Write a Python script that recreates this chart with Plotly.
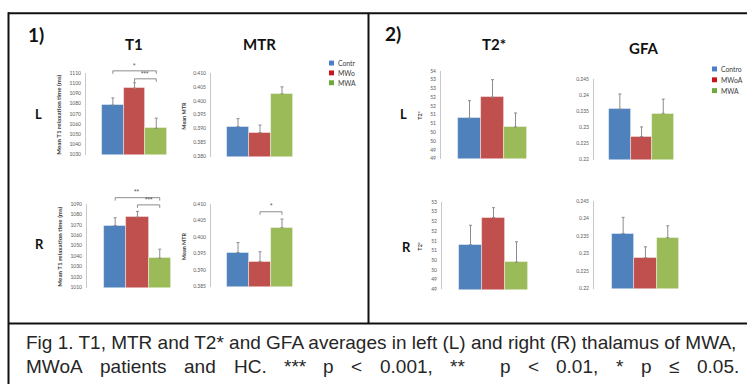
import plotly.graph_objects as go

W, H = 747, 387

# ---------------- data ----------------
groups = ["Control", "MWoA", "MWA"]
bar_colors = ["#4F81BD", "#C0504D", "#9BBB59"]
legend_colors = ["#4A7EC8", "#C8141E", "#6BAA3A"]
legend1_labels = ["Contr", "MWo", "MWA"]
legend2_labels = ["Contro", "MWoA", "MWA"]

t1_left = [1078.5, 1095.0, 1055.7]
t1_left_err = [7.0, 5.4, 10.0]
t1_right = [1069.3, 1077.2, 1038.0]
t1_right_err = [7.4, 5.6, 8.7]

mtr_left = [0.3908, 0.3886, 0.4025]
mtr_left_err = [0.0028, 0.0027, 0.0025]
mtr_right = [0.3953, 0.3926, 0.4028]
mtr_right_err = [0.0030, 0.0029, 0.0026]

t2_left = [51.3, 52.5, 50.8]
t2_left_err = [1.0, 1.0, 0.8]
t2_right = [51.3, 52.7, 50.4]
t2_right_err = [1.0, 0.5, 1.05]

gfa_left = [0.2356, 0.2271, 0.2343]
gfa_left_err = [0.0047, 0.0030, 0.0044]
gfa_right = [0.2357, 0.2288, 0.2345]
gfa_right_err = [0.0046, 0.0031, 0.0034]

t1_left_ticks = [1030, 1040, 1050, 1060, 1070, 1080, 1090, 1100, 1110]
t1_right_ticks = [1010, 1020, 1030, 1040, 1050, 1060, 1070, 1080, 1090]
mtr_left_ticks = [0.380, 0.385, 0.390, 0.395, 0.400, 0.405, 0.410]
mtr_right_ticks = [0.385, 0.390, 0.395, 0.400, 0.405, 0.410]
t2_left_ticks = [49, 49.5, 50, 50.5, 51, 51.5, 52, 52.5, 53, 53.5, 54]
t2_left_ticktext = ["49", "49", "50", "50", "51", "51", "52", "52", "53", "53", "54"]
t2_right_ticks = [49, 49.5, 50, 50.5, 51, 51.5, 52, 52.5, 53, 53.5]
t2_right_ticktext = ["49", "49", "50", "50", "51", "51", "52", "52", "53", "53"]
gfa_ticks = [0.22, 0.225, 0.23, 0.235, 0.24, 0.245]
gfa_ticktext = ["0.22", "0.225", "0.23", "0.235", "0.24", "0.245"]

caption1 = "Fig 1. T1, MTR and T2* and GFA averages in left (L) and right (R) thalamus of MWA,"
caption2_words = ["MWoA", "patients", "and", "HC.", "***", "p", "<", "0.001,", "**", "p", "<",
                  "0.01,", "*", "p", "\u2264", "0.05."]
caption2_gaps = [1, 1, 1, 1, 1, 1, 1, 1, 2, 1, 1, 1, 1, 1, 1]

# ---------------- helpers ----------------
def PX(px):
    return px / W

def PY(py):
    return 1 - py / H

TICKFONT = dict(family="Lato", size=5, color="#595959")
D = 100  # plot width in px

# panel layout: axis x px, top px, bottom px, first bar left px, bar width px
panels = [
    dict(vals=t1_left, err=t1_left_err, ticks=t1_left_ticks, text=[str(v) for v in t1_left_ticks],
         ax=86, top=71, bot=154, bl=102, bw=21.7, ytitle="Mean T1 relaxation time (ms)", tx=59, tsize=6.2),
    dict(vals=mtr_left, err=mtr_left_err, ticks=mtr_left_ticks, text=["%.3f" % v for v in mtr_left_ticks],
         ax=211, top=71, bot=156, bl=227, bw=22, ytitle="Mean MTR", tx=184, tsize=5.5),
    dict(vals=t2_left, err=t2_left_err, ticks=t2_left_ticks, text=t2_left_ticktext,
         ax=441, top=69, bot=158, bl=458, bw=23, ytitle="T2*", tx=420, tsize=5.5),
    dict(vals=gfa_left, err=gfa_left_err, ticks=gfa_ticks, text=gfa_ticktext,
         ax=594, top=77, bot=159, bl=609, bw=21.7, ytitle=None),
    dict(vals=t1_right, err=t1_right_err, ticks=t1_right_ticks, text=[str(v) for v in t1_right_ticks],
         ax=87, top=204, bot=289, bl=104, bw=22.3, ytitle="Mean T1 relaxation time (ms)", tx=60, tsize=6.2),
    dict(vals=mtr_right, err=mtr_right_err, ticks=mtr_right_ticks, text=["%.3f" % v for v in mtr_right_ticks],
         ax=211, top=204, bot=288, bl=227, bw=22, ytitle="Mean MTR", tx=184, tsize=5.5),
    dict(vals=t2_right, err=t2_right_err, ticks=t2_right_ticks, text=t2_right_ticktext,
         ax=442, top=202, bot=291, bl=459, bw=23, ytitle="T2*", tx=420, tsize=5.5),
    dict(vals=gfa_right, err=gfa_right_err, ticks=gfa_ticks, text=gfa_ticktext,
         ax=594, top=201, bot=290, bl=612, bw=22.3, ytitle=None),
]

fig = go.Figure()
layout = {}
shapes = []
annotations = []

for k, p in enumerate(panels, start=1):
    sfx = "" if k == 1 else str(k)
    c0 = p["bl"] + p["bw"] / 2
    r0 = -(c0 - p["ax"]) / p["bw"]
    r1 = r0 + D / p["bw"]
    fig.add_trace(go.Bar(
        x=[0, 1, 2], y=p["vals"], width=1,
        marker=dict(color=bar_colors, line=dict(color="rgba(255,255,255,0.55)", width=0.8)),
        error_y=dict(type="data", array=p["err"], arrayminus=[0, 0, 0], symmetric=False,
                     color="#8C8C8C", thickness=1, width=1.5),
        xaxis="x" + sfx, yaxis="y" + sfx, showlegend=False, hoverinfo="skip",
    ))
    layout["xaxis" + sfx] = dict(domain=[PX(p["ax"]), PX(p["ax"] + D)], range=[r0, r1],
                                 visible=False, anchor="y" + sfx, fixedrange=True)
    layout["yaxis" + sfx] = dict(domain=[PY(p["bot"]), PY(p["top"])],
                                 range=[p["ticks"][0], p["ticks"][-1]],
                                 anchor="x" + sfx, tickvals=p["ticks"], ticktext=p["text"],
                                 showline=True, linecolor="#C8C8C8", linewidth=1,
                                 showgrid=False, zeroline=False, ticks="",
                                 ticklabelstandoff=3, tickfont=TICKFONT, fixedrange=True)
    p["c0"] = c0
    if p["ytitle"]:
        annotations.append(dict(x=PX(p["tx"]), y=PY((p["top"] + p["bot"]) / 2 + 1), xref="paper", yref="paper",
                                text="<b>%s</b>" % p["ytitle"], textangle=-90, showarrow=False,
                                font=dict(family="Lato", size=p["tsize"], color="#404040"),
                                xanchor="center", yanchor="middle"))


def bracket(p, i, j, level, label):
    ymin, ymax = p["ticks"][0], p["ticks"][-1]
    py = p["bot"] - (level - ymin) / (ymax - ymin) * (p["bot"] - p["top"])
    x1 = p["c0"] + i * p["bw"]
    x2 = p["c0"] + j * p["bw"]
    path = "M %f,%f L %f,%f L %f,%f L %f,%f" % (PX(x1), PY(py + 3), PX(x1), PY(py), PX(x2), PY(py), PX(x2), PY(py + 3))
    shapes.append(dict(type="path", path=path, xref="paper", yref="paper",
                       line=dict(color="#808080", width=0.9)))
    annotations.append(dict(x=PX((x1 + x2) / 2), y=PY(py - 0.3), xref="paper", yref="paper",
                            text=label, showarrow=False, xanchor="center", yanchor="bottom",
                            font=dict(family="Liberation Sans", size=6.5, color="#555555")))


bracket(panels[0], 0, 2, 1112.0, "*")
bracket(panels[0], 1, 2, 1104.2, "***")
bracket(panels[4], 0, 2, 1095.9, "**")
bracket(panels[4], 1, 2, 1089.0, "***")
bracket(panels[5], 1, 2, 0.4076, "*")

# ---------------- text labels ----------------
def txt(x, y, s, size, family="Lato", bold=True, color="#111111", anchor="center"):
    annotations.append(dict(x=PX(x), y=PY(y), xref="paper", yref="paper",
                            text=("<b>%s</b>" % s) if bold else s, showarrow=False,
                            xanchor=anchor, yanchor="middle",
                            font=dict(family=family, size=size, color=color)))

txt(36, 32, "1)", 19)
txt(393, 31, "2)", 19)
txt(134, 41.5, "T1", 15)
txt(259, 41.5, "MTR", 15)
txt(494, 42, "T2*", 15)
txt(643, 45.5, "GFA", 15)
txt(38.5, 113, "L", 13)
txt(39.5, 245, "R", 13)
txt(403.5, 113, "L", 13)
txt(406, 248, "R", 13)

# legends
for (sx, rows, labels) in [(329, [61, 71, 81], legend1_labels), (712, [67, 78, 89], legend2_labels)]:
    for r, lab, col in zip(rows, labels, legend_colors):
        shapes.append(dict(type="rect", xref="paper", yref="paper",
                           x0=PX(sx), x1=PX(sx + 5), y0=PY(r + 2.5), y1=PY(r - 2.5),
                           fillcolor=col, line=dict(width=0)))
        txt(sx + 6.5, r, lab, 6.8, bold=False, color="#404040", anchor="left")

# ---------------- frame lines ----------------
def line(x0, y0, x1, y1, w=2):
    shapes.append(dict(type="line", xref="paper", yref="paper", x0=PX(x0), y0=PY(y0),
                       x1=PX(x1), y1=PY(y1), line=dict(color="#111111", width=w)))

line(8.5, 9.5, 8.5, 387)
line(8, 10.5, 747, 10.5)
line(368.5, 10, 368.5, 325)
line(8, 325.5, 747, 325.5)

# ---------------- caption ----------------
ARIAL = {' ': 278, 'M': 833, 'W': 944, 'o': 556, 'A': 667, 'p': 556, 'a': 556, 't': 278, 'i': 222,
         'e': 556, 'n': 556, 's': 500, 'd': 556, 'H': 722, 'C': 722, '.': 278, '*': 389, '<': 584,
         '0': 556, '1': 556, ',': 278, '\u2264': 549, '5': 556}
CAP_SIZE = 19
CAP_FONT = dict(family="Liberation Sans", size=CAP_SIZE, color="#262626")
annotations.append(dict(x=PX(24), y=PY(344.5), xref="paper", yref="paper", text=caption1,
                        showarrow=False, xanchor="left", yanchor="middle", font=CAP_FONT))

left_px, right_px = 25, 738
widths = [sum(ARIAL[c] for c in w) / 1000 * CAP_SIZE for w in caption2_words]
space = (right_px - left_px - sum(widths)) / sum(caption2_gaps)
xpos = left_px
for n, (wd, wlen) in enumerate(zip(caption2_words, widths)):
    annotations.append(dict(x=PX(xpos - 1), y=PY(369), xref="paper", yref="paper", text=wd,
                            showarrow=False, xanchor="left", yanchor="middle", font=CAP_FONT))
    if n < len(caption2_gaps):
        xpos += wlen + space * caption2_gaps[n]

layout.update(dict(width=W, height=H, margin=dict(l=0, r=0, t=0, b=0),
                   paper_bgcolor="white", plot_bgcolor="white",
                   shapes=shapes, annotations=annotations, bargap=0, showlegend=False))
fig.update_layout(**layout)
fig.write_html("out.html", config={"displayModeBar": False},
               post_script="document.body.style.margin='0px';document.body.style.padding='0px';")
